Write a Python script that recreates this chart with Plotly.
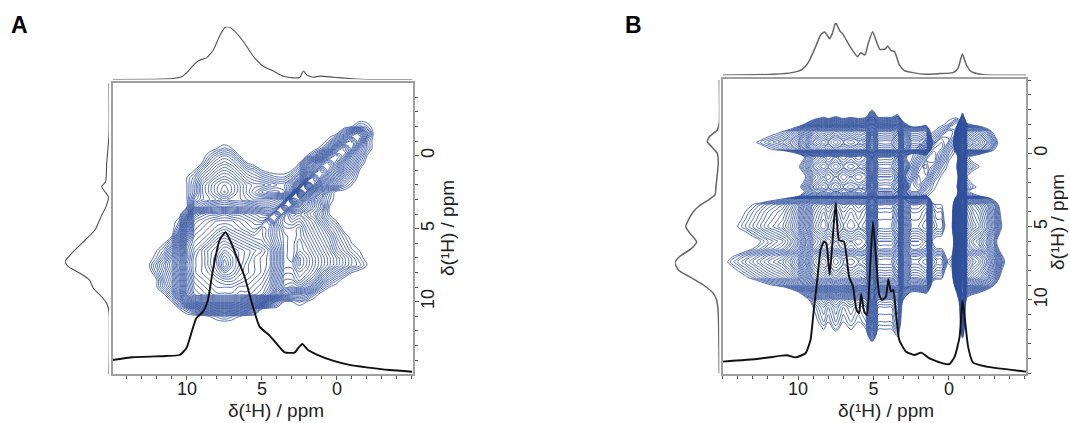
import numpy as np
import plotly.graph_objects as go

W, H = 1070, 423
BLUE = "#2f4f9c"

# ---------- Panel A data ----------
top_a_ppm = [14.95,12.13,10.91,10.36,9.91,9.47,9.13,8.69,8.24,7.8,7.47,7.24,6.91,6.24,5.58,4.91,4.24,3.58,2.91,2.47,2.24,1.98,1.58,1.13,0.24,-0.87,-2.09,-5.05]
top_a_int = [0,0.6,1.9,5,16,30,37,41,56,84,98,100,94,72,44,25,16,6,3,3.8,16,8,4.4,6.3,4.4,1.9,0,0]
left_a_ppm = [-4.96,-1.42,0.52,1.78,2.12,2.47,2.81,3.49,4.18,5.09,6,6.68,7.26,7.6,8.05,8.51,9.08,9.66,10.11,10.68,15]
left_a_int = [0,0,5.3,7.6,16.7,9.1,1.5,6.8,18.2,31.8,62,84.8,100,92.4,65.9,44.7,35.6,16.7,5.3,0,0]
trace_a_ppm = [14.98,13.6,11.38,10.49,10.04,9.71,9.38,8.93,8.6,8.27,7.82,7.42,7.04,6.6,6.16,5.6,5.16,4.49,4.04,3.49,2.82,2.6,2.31,1.93,1.38,0.27,-0.84,-1.96,-3.51,-5.02]
trace_a_int = [9.9,11.8,12.7,13.4,18.1,28.7,39.3,44,52.2,73.4,94.6,100,92.2,80.5,68.7,47.5,33.4,27.1,21.6,15.3,15.1,18.1,21.2,16.9,13.9,9.4,6.4,4.7,2.8,1.6]

xa = [13,12.5,12,11.5,11,10.5,10,9.5,9,8.5,8,7.5,7,6.5,6,5.5,5,4.5,4,3.5,3,2.5,2,1.5,1,.5,0,-.5,-1,-1.5,-2,-2.5,-3]
ya = [-2.5,-2,-1.5,-1,-.5,0,.5,1,1.5,2,2.5,3,3.5,4,4.5,5,5.5,6,6.5,7,7.5,8,8.5,9,9.5,10,10.5,11,11.5]
za = [
 [0]*33,
 [0]*28+[1,3,2,0,0],
 [0]*26+[1,5,9,12,6,0,0],
 [0]*25+[2,6,11,14,10,3,0,0],
 [0]*10+[1,2,1]+[0]*11+[2,7,13,17,13,7,3,0,0],
 [0]*9+[2,4,5,4,1]+[0]*8+[1,4,9,15,18,15,9,5,1,0,0],
 [0]*8+[1,4,6,7,6,4,1]+[0]*6+[1,7,12,17,20,16,11,7,3,0,0,0],
 [0]*7+[1,4,6,8,9,8,6,4,3,1,0,0,0,1,4,11,17,22,18,14,9,5,1,0,0,0],
 [0]*6+[1,3,6,8,10,11,10,8,6,5,4,3,2,2,4,8,16,24,19,14,10,6,3]+[0]*4,
 [0]*6+[1,4,8,10,12,13,12,10,8,7,7,6,5,5,8,14,28,21,14,9,6,3,1]+[0]*4,
 [0]*6+[1,4,8,10,12,14,12,10,8,6,4,3,3,4,10,28,20,13,8,3,0,0,0]+[0]*4,
 [0]*6+[1,6,8,9,10,11,10,10,9,8,8,8,9,11,24,20,14,9,5,2,0,0,0]+[0]*4,
 [0]*6+[1,9,11,13,14,14,14,13,13,12,11,11,12,21,16,15,12,9,6,1,0,0,0]+[0]*4,
 [0]*6+[6,16,18,19,19,20,19,19,18,17,16,15,20,14,10,11,9,7,4,1,0,0,0]+[0]*4,
 [0]*5+[2,11,19,20,21,22,22,22,21,20,19,18,22,16,13,12,13,11,9,6,3,1]+[0]*6,
 [0]*5+[4,13,20,21,22,23,24,23,22,21,20,22,20,17,14,14,15,12,10,8,5,3]+[0]*6,
 [0]*4+[1,8,16,21,22,23,25,26,25,24,23,22,22,20,17,15,14,15,13,11,9,7,4,2]+[0]*5,
 [0]*3+[1,4,11,19,22,23,25,27,28,27,26,25,24,23,21,18,15,14,16,14,12,10,8,5,3,1]+[0]*4,
 [0]*2+[1,3,7,13,20,23,25,27,28,30,29,28,27,26,25,23,19,15,14,16,15,13,11,9,6,4,2,1]+[0]*3,
 [0]*2+[2,5,9,14,20,24,25,27,29,32,30,28,27,25,24,23,19,15,14,18,16,14,12,10,8,6,4,2]+[0]*3,
 [0]+[1,4,7,10,15,21,24,25,27,29,33,30,28,26,25,24,23,19,15,15,18,16,14,12,10,8,6,4,3,1]+[0]*2,
 [0]*2+[3,6,9,14,20,24,25,26,28,30,29,27,26,25,24,22,18,14,14,16,15,13,10,7,5,3,1]+[0]*4,
 [0]*2+[1,5,8,13,19,23,24,25,26,27,27,26,25,24,23,21,17,13,13,15,13,11,7,4,2]+[0]*6,
 [0]*2+[1,4,7,12,18,22,23,24,25,25,25,24,24,23,22,20,16,12,11,12,10,7,3,1]+[0]*7,
 [0]*3+[1,4,10,17,21,22,23,24,24,24,23,23,22,21,18,13,8,6,6,5,2]+[0]*9,
 [0]*4+[1,5,11,15,16,17,18,18,18,17,16,14,12,8,4,1,1,2,1]+[0]*10,
 [0]*5+[1,3,6,8,9,10,10,10,9,8,5,1]+[0]*16,
 [0]*9+[1,2,3,2,1]+[0]*19,
 [0]*33,
]

# ---------- Panel B data ----------
top_b_ppm = [14.99,11.62,10.4,9.73,9.29,8.84,8.51,8.24,7.91,7.73,7.51,7.24,7.02,6.62,6.06,5.84,5.57,5.35,5.06,4.84,4.58,4.22,4.06,3.84,3.6,3.29,2.95,2.4,1.51,0.62,-0.27,-0.6,-0.89,-1.16,-1.49,-2.27,-5.11]
top_b_int = [0,1.9,5.1,11.4,26,54.4,76.6,82.3,69.6,79.7,100,84.8,77.8,57.6,35.4,43,38.6,60.8,83,67,49.4,50,55.7,46.8,44.9,19.6,8.9,5.1,1.9,3.2,5.1,13.3,40.5,19.6,6.9,1.3,0]
left_b_ppm = [-5,-2.04,-1.59,-1.13,-0.79,-0.45,0,0.68,2.28,2.84,3.19,3.64,3.98,4.55,5,5.46,6.03,6.48,7.05,7.46,7.96,8.41,8.98,9.55,10,10.92,15]
left_b_int = [0,0,4.5,22.6,27,17.3,4.5,2.3,7.5,9.8,25,47.4,58.6,69.9,75.9,66.2,51.1,62.4,90.2,100,92.5,67.7,36,13.5,6,2.3,0]
trace_b_ppm = [15,12.62,11.07,10.73,10.18,9.51,9.18,8.96,8.73,8.51,8.29,8.13,7.91,7.73,7.51,7.29,6.96,6.62,6.36,6.13,5.96,5.82,5.62,5.44,5.29,5.04,4.84,4.62,4.44,4.18,4.02,3.84,3.69,3.51,3.29,2.84,2.29,1.84,1.29,0.4,-0.04,-0.38,-0.71,-0.89,-1.04,-1.27,-1.6,-2.49,-5.11]
trace_b_int = [7.2,8.9,10.7,10.9,9.7,12.1,19.8,37.4,54.9,72.4,77.2,76.3,57.8,76.3,100,78.2,77.2,56.8,51,37.4,35.4,46.7,36.4,34.4,51,88.9,68.5,46.1,43.2,45.1,55.3,48.1,49,35.4,19.8,13,11.1,12.5,9.1,6.2,5.8,10.1,21.8,42.8,33.5,16,6.6,4.3,1.4]

# contour levels read along one column and one row of panel B
xb = [15,14.5,14,13.5,13,12.5,12,11.5,11,10.5,10,9.5,9,8.5,8.3,8,7.5,7,6.5,6,5.5,5.1,4.7,4.2,3.8,3.4,3,2.5,2,1.5,1.1,.8,.5,.1,-.2,-.6,-.9,-1.2,-1.6,-2,-2.5,-3,-3.5,-4]
xb_level = [-1,2,4,6,8,10,12,13.5,15,18,22,28,34,37,38,36,39,36,38,36,38,48,38,38,38,42,30,22,22,24,10,8,8,1,3,28,44,28,25,23,19,13,4,-4]
yb = [-3.5,-3,-2.5,-2,-1.75,-1.5,-1.25,-.75,-.25,0,.25,.6,.9,1.3,1.6,2,2.3,2.6,2.9,3.1,3.5,4,4.5,5,5.5,6,6.5,7,7.4,8,8.5,9,9.5,10,10.5,11,11.5,12,12.5,13]
yb_level = [-55,-48,-38,-26,-19,-14,-12,-8,-12,-20,-26,-24,-22,-25,-27,-25,-23,-26,-22,-14,-7,-5,-4,-3,-6,-9,-7,-2,0,-3,-6,-12,-22,-30,-33,-34,-35,-37,-41,-50]
zb = np.add.outer(np.array(yb_level, float), np.array(xb_level, float))

# diagonal ridge of panel B
xd = [3.5,3,2.5,2,1.5,1,.5,0,-.5,-1]
yd = [-2.5,-2,-1.5,-1,-.5,0,.5,1,1.5,2,2.5,3,3.5]
zd = [
 [0,0,0,0,0,0,0,0,0,0],
 [0,0,0,0,0,0,0,2,6,0],
 [0,0,0,0,0,1,4,8,6,0],
 [0,0,0,0,1,5,9,8,3,0],
 [0,0,0,1,5,9,11,6,1,0],
 [0,0,0,3,8,12,8,3,0,0],
 [0,0,1,6,11,12,6,1,0,0],
 [0,0,3,9,12,8,3,0,0,0],
 [0,1,5,11,11,5,1,0,0,0],
 [0,2,8,12,7,2,0,0,0,0],
 [0,3,9,9,4,1,0,0,0,0],
 [0,1,3,3,1,0,0,0,0,0],
 [0,0,0,0,0,0,0,0,0,0],
]

tick_vals = [10, 5, 0]
axis_title = "δ(¹H) / ppm"


def dx(a, b):
    return [a / W, b / W]


def dy(top, bottom):
    return [1 - bottom / H, 1 - top / H]


def contour(x, y, z, xa_, ya_, end, size=1):
    return go.Contour(
        x=x, y=y, z=z, xaxis=xa_, yaxis=ya_,
        contours=dict(coloring="lines", start=1, end=end, size=size, showlabels=False),
        colorscale=[[0, BLUE], [1, BLUE]], showscale=False,
        line=dict(width=0.8, smoothing=1), hoverinfo="skip",
    )


def line(x, y, xa_, ya_, color, width):
    return go.Scatter(
        x=x, y=y, xaxis=xa_, yaxis=ya_, mode="lines", showlegend=False,
        line=dict(color=color, width=width, shape="spline", smoothing=0.5), hoverinfo="skip",
    )


FONT = dict(family="Liberation Sans, Arial, sans-serif", size=18, color="#222")
TITLE_FONT = dict(family="Liberation Sans, Arial, sans-serif", size=19, color="#222")


def main_x(domain, rng, anchor):
    return dict(
        domain=domain, range=rng, anchor=anchor, showgrid=False, zeroline=False,
        showline=True, mirror=True, linecolor="#a0a0a0", linewidth=1.6,
        ticks="outside", ticklen=4, tickcolor="#555", tickwidth=1,
        tickmode="array", tickvals=tick_vals, tickfont=FONT, ticklabelstandoff=-6,
        minor=dict(tickmode="linear", tick0=0, dtick=1, ticks="outside", ticklen=3, tickcolor="#555", showgrid=False),
    )


def main_y(domain, rng, anchor):
    return dict(
        domain=domain, range=rng, anchor=anchor, side="right", showgrid=False, zeroline=False,
        showline=True, mirror=True, linecolor="#a0a0a0", linewidth=1.6,
        ticks="outside", ticklen=4, tickcolor="#555", tickwidth=1,
        tickmode="array", tickvals=tick_vals, tickangle=-90, tickfont=FONT, ticklabelstandoff=-6,
        minor=dict(tickmode="linear", tick0=0, dtick=1, ticks="outside", ticklen=3, tickcolor="#555", showgrid=False),
    )


def hidden(domain, rng, anchor, **kw):
    return dict(domain=domain, range=rng, anchor=anchor, visible=False, **kw)


def note(text, x, y, font, angle=0):
    return dict(text=text, x=x / W, y=1 - y / H, xref="paper", yref="paper", showarrow=False,
                xanchor="center", yanchor="middle", textangle=angle, font=font)


fig = go.Figure()
# panel A
fig.add_trace(contour(xa, ya, za, "x", "y", 33, 0.8))
fig.add_trace(line(trace_a_ppm, trace_a_int, "x", "y2", "#111111", 1.9))
fig.add_trace(line(top_a_ppm, top_a_int, "x2", "y3", "#505050", 1.1))
fig.add_trace(line(left_a_int, left_a_ppm, "x3", "y4", "#505050", 1.1))
# panel B
fig.add_trace(contour(xb, yb, zb.tolist(), "x4", "y5", 50))
fig.add_trace(contour(xd, yd, zd, "x4", "y5", 12))
fig.add_trace(line(trace_b_ppm, trace_b_int, "x4", "y6", "#111111", 1.9))
fig.add_trace(line(top_b_ppm, top_b_int, "x5", "y7", "#666666", 1.5))
fig.add_trace(line(left_b_int, left_b_ppm, "x6", "y8", "#666666", 1.5))

A_X, A_Y = dx(112.7, 412.7), dy(83, 374)
B_X, B_Y = dx(722.7, 1026), dy(79.3, 374)
A_XR, A_YR = [14.95, -5.05], [14.95, -4.98]
B_XR, B_YR = [15.0, -5.11], [15.05, -5.05]
LABEL_FONT = dict(family="Liberation Sans, Arial, sans-serif", size=23, color="black")

fig.update_layout(
    width=W, height=H, margin=dict(l=0, r=0, t=0, b=0),
    paper_bgcolor="white", plot_bgcolor="rgba(0,0,0,0)", showlegend=False,
    xaxis=main_x(A_X, A_XR, "y"),
    yaxis=main_y(A_Y, A_YR, "x"),
    yaxis2=dict(overlaying="y", anchor="x", range=[0, 205.2], visible=False),
    xaxis2=hidden(A_X, A_XR, "y3"),
    yaxis3=hidden(dy(26.7, 79.5), [0, 100], "x2"),
    xaxis3=hidden(dx(65, 109), [100, 0], "y4"),
    yaxis4=hidden(A_Y, A_YR, "x3"),
    xaxis4=main_x(B_X, B_XR, "y5"),
    yaxis5=main_y(B_Y, B_YR, "x4"),
    yaxis6=dict(overlaying="y5", anchor="x4", range=[0, 172], visible=False),
    xaxis5=hidden(B_X, B_XR, "y7"),
    yaxis7=hidden(dy(22.7, 75.3), [0, 100], "x5"),
    xaxis6=hidden(dx(675, 719.3), [100, 0], "y8"),
    yaxis8=hidden(B_Y, B_YR, "x6"),
    annotations=[
        note("<b>A</b>", 19, 25, LABEL_FONT),
        note("<b>B</b>", 633, 25, LABEL_FONT),
        note(axis_title, 276, 410, TITLE_FONT),
        note(axis_title, 886, 410, TITLE_FONT),
        note(axis_title, 447, 228, TITLE_FONT, -90),
        note(axis_title, 1057, 222, TITLE_FONT, -90),
    ],
)

fig.write_html("out.html", config=dict(displayModeBar=False), post_script="document.body.style.margin='0';")
